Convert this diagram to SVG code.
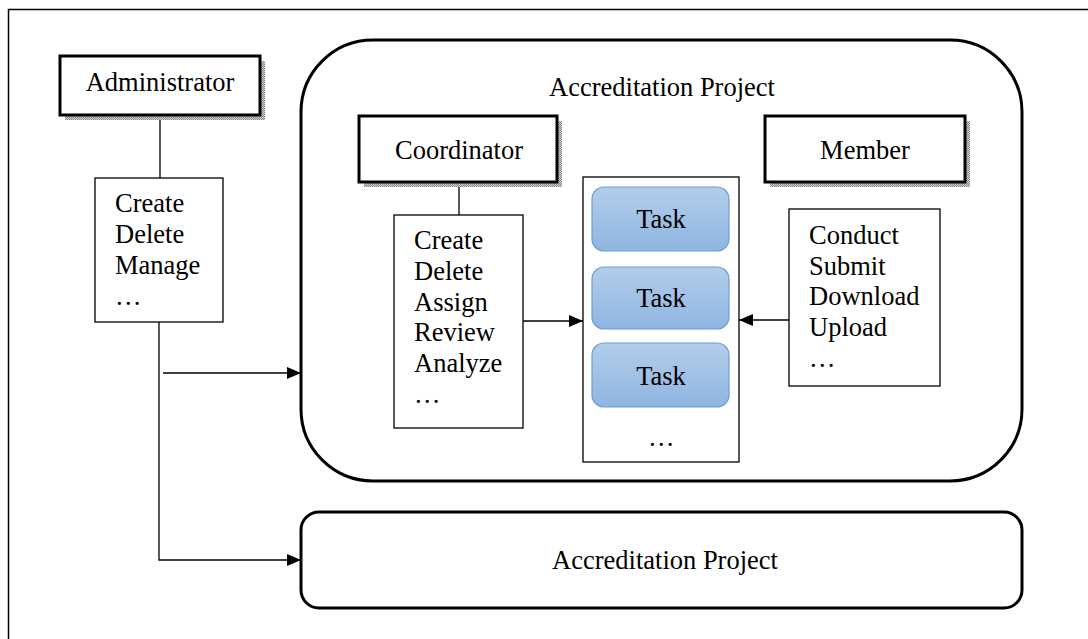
<svg xmlns="http://www.w3.org/2000/svg" width="1088" height="639" viewBox="0 0 1088 639">
<style>
text{font-family:"Liberation Serif","Times New Roman",serif;font-size:26.5px;fill:#000}
.box{fill:#fff;stroke:#000;stroke-width:1.3}
.hdr{fill:#fff;stroke:#000;stroke-width:3}
.shadow{fill:url(#hatch)}
.task{fill:url(#tg);stroke:#6a9ed6;stroke-width:1.2}
.ln{fill:none;stroke:#000;stroke-width:1.3}
.mid{text-anchor:middle}
</style>
<defs>
<pattern id="hatch" width="2" height="2" patternUnits="userSpaceOnUse">
<rect width="2" height="2" fill="#d0d0d0"/>
<rect width="1" height="1" fill="#888"/>
<rect x="1" y="1" width="1" height="1" fill="#888"/>
</pattern>
<linearGradient id="tg" x1="0" y1="0" x2="0" y2="1">
<stop offset="0" stop-color="#b3cdea"/>
<stop offset="1" stop-color="#8fb5e1"/>
</linearGradient>
<marker id="ah" markerWidth="14" markerHeight="12" refX="14" refY="6" orient="auto" markerUnits="userSpaceOnUse">
<path d="M0,0 L14,6 L0,12 Z" fill="#000"/>
</marker>
</defs>
<rect width="1088" height="639" fill="#fff"/>
<path d="M8.5,639 V9.5 H1088" fill="none" stroke="#000" stroke-width="1.5"/>

<g id="project-container">
<rect x="301" y="40" width="721" height="441" rx="72" ry="72" fill="#fff" stroke="#000" stroke-width="3"/>
<text x="662" y="96" class="mid">Accreditation Project</text>
</g>

<g id="project-bottom">
<rect x="301" y="512" width="721" height="96" rx="18" ry="18" fill="#fff" stroke="#000" stroke-width="3"/>
<text x="665" y="569" class="mid">Accreditation Project</text>
</g>

<g id="connectors">
<line x1="160" y1="117" x2="160" y2="178" class="ln"/>
<path d="M159,322 V560 H301" class="ln" marker-end="url(#ah)"/>
<line x1="163" y1="373" x2="301" y2="373" class="ln" marker-end="url(#ah)"/>
<line x1="459" y1="183" x2="459" y2="215" class="ln"/>
<line x1="523" y1="321" x2="583" y2="321" class="ln" marker-end="url(#ah)"/>
<line x1="789" y1="320" x2="739" y2="320" class="ln" marker-end="url(#ah)"/>
</g>

<g id="administrator">
<rect x="65" y="61" width="200" height="59" class="shadow"/>
<rect x="60" y="56" width="200" height="59" class="hdr"/>
<text x="160" y="91" class="mid">Administrator</text>
</g>

<g id="admin-actions">
<rect x="95" y="178" width="128" height="144" class="box"/>
<text x="115" y="212">Create</text>
<text x="115" y="243">Delete</text>
<text x="115" y="274">Manage</text>
<text x="115" y="305">…</text>
</g>

<g id="coordinator">
<rect x="364" y="121" width="198" height="66" class="shadow"/>
<rect x="359" y="116" width="198" height="66" class="hdr"/>
<text x="459" y="159" class="mid">Coordinator</text>
</g>

<g id="coordinator-actions">
<rect x="394" y="215" width="129" height="213" class="box"/>
<text x="414" y="249">Create</text>
<text x="414" y="280">Delete</text>
<text x="414" y="311">Assign</text>
<text x="414" y="341">Review</text>
<text x="414" y="372">Analyze</text>
<text x="414" y="403">…</text>
</g>

<g id="tasks">
<rect x="583" y="177" width="156" height="285" class="box"/>
<rect x="592" y="187" width="137" height="64" rx="12" ry="12" class="task"/>
<text x="661" y="228" class="mid">Task</text>
<rect x="592" y="267" width="137" height="62" rx="12" ry="12" class="task"/>
<text x="661" y="307" class="mid">Task</text>
<rect x="592" y="343" width="137" height="64" rx="12" ry="12" class="task"/>
<text x="661" y="385" class="mid">Task</text>
<text x="648" y="446">…</text>
</g>

<g id="member">
<rect x="770" y="121" width="200" height="66" class="shadow"/>
<rect x="765" y="116" width="200" height="66" class="hdr"/>
<text x="865" y="159" class="mid">Member</text>
</g>

<g id="member-actions">
<rect x="789" y="209" width="151" height="177" class="box"/>
<text x="809" y="244">Conduct</text>
<text x="809" y="275">Submit</text>
<text x="809" y="305">Download</text>
<text x="809" y="336">Upload</text>
<text x="809" y="367">…</text>
</g>
</svg>
